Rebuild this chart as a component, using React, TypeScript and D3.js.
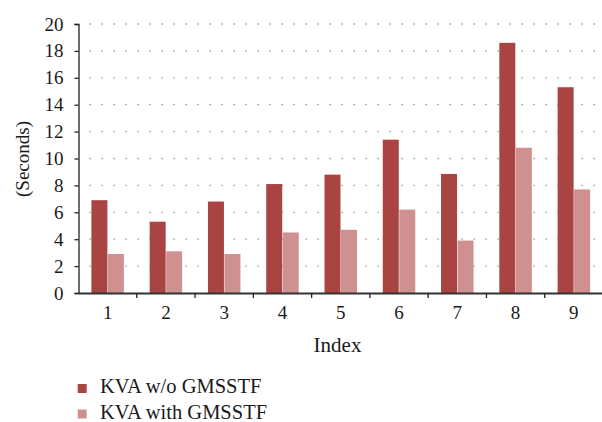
import React, { useEffect, useRef } from "react";
import * as d3 from "d3";

const categories = ["1", "2", "3", "4", "5", "6", "7", "8", "9"];
const withoutGmsstf = [6.9, 5.3, 6.8, 8.1, 8.8, 11.4, 8.85, 18.6, 15.3];
const withGmsstf = [2.9, 3.1, 2.9, 4.5, 4.7, 6.2, 3.9, 10.8, 7.7];
const seriesNames = ["KVA w/o GMSSTF", "KVA with GMSSTF"];
const yTicks = [0, 2, 4, 6, 8, 10, 12, 14, 16, 18, 20];

const colors = ["#a94442", "#cf9190"];
const font = "'Liberation Serif', 'DejaVu Serif', serif";

export default function App() {
  const ref = useRef<SVGSVGElement>(null);

  useEffect(() => {
    const svg = d3.select(ref.current);
    svg.selectAll("*").remove();

    const left = 78.5, right = 603, top = 24, bottom = 293;

    const x = d3.scaleBand().domain(categories).range([left, right]).paddingInner(0).paddingOuter(0);
    const inner = d3.scaleBand().domain(["0", "1"]).range([0, 32.5]).paddingInner(0.03);
    const y = d3.scaleLinear().domain([0, 20]).range([bottom, top]);

    // gridlines
    svg.append("g")
      .selectAll("line")
      .data(yTicks.slice(1))
      .join("line")
      .attr("x1", left + 11)
      .attr("x2", right)
      .attr("y1", (d) => y(d))
      .attr("y2", (d) => y(d))
      .style("stroke", "#8a8a8a")
      .style("stroke-width", 1.3)
      .style("stroke-dasharray", "1.3 10.7");

    // bars
    const series = [withoutGmsstf, withGmsstf];
    series.forEach((vals, si) => {
      svg.append("g")
        .selectAll("rect")
        .data(vals)
        .join("rect")
        .attr("x", (_, i) => x(categories[i])! + (x.bandwidth() - 32.5) / 2 + inner(String(si))!)
        .attr("y", (d) => y(d))
        .attr("width", inner.bandwidth())
        .attr("height", (d) => bottom - y(d))
        .style("fill", colors[si]);
    });

    // y axis
    const yAxis = svg.append("g")
      .attr("transform", `translate(${left},0)`)
      .call(d3.axisLeft(y).tickValues(yTicks).tickSize(4).tickPadding(11));
    yAxis.select(".domain").attr("stroke", "#222").attr("stroke-width", 1.3);
    yAxis.selectAll(".tick line").attr("stroke", "#222").attr("stroke-width", 1.3);
    yAxis.selectAll("text")
      .style("font-family", font)
      .style("font-size", "19px")
      .style("fill", "#1a1a1a");

    // x axis
    const xAxis = svg.append("g")
      .attr("transform", `translate(0,${bottom})`)
      .call(d3.axisBottom(x).tickSize(0).tickPadding(13));
    xAxis.select(".domain").attr("stroke", "#333").attr("stroke-width", 1.8);
    xAxis.selectAll("text")
      .style("font-family", font)
      .style("font-size", "19px")
      .style("fill", "#1a1a1a");

    svg.append("g")
      .selectAll("line")
      .data(categories.map((c) => x(c)!).slice(1))
      .join("line")
      .attr("x1", (d) => d)
      .attr("x2", (d) => d)
      .attr("y1", bottom)
      .attr("y2", bottom + 5)
      .style("stroke", "#222")
      .style("stroke-width", 1.3);

    // axis titles
    svg.append("text")
      .attr("x", 337.5)
      .attr("y", 352)
      .attr("text-anchor", "middle")
      .style("font-family", font)
      .style("font-size", "21px")
      .style("fill", "#1a1a1a")
      .text("Index");

    svg.append("text")
      .attr("transform", `translate(29,159) rotate(-90)`)
      .attr("text-anchor", "middle")
      .style("font-family", font)
      .style("font-size", "19px")
      .style("fill", "#1a1a1a")
      .text("(Seconds)");

    // legend
    const legend = svg.append("g")
      .selectAll("g")
      .data(seriesNames)
      .join("g")
      .attr("transform", (_, i) => `translate(77.7,${384 + i * 25.5})`);
    legend.append("rect")
      .attr("width", 9)
      .attr("height", 9)
      .style("fill", (_, i) => colors[i]);
    legend.append("text")
      .attr("x", 22.3)
      .attr("y", 9)
      .style("font-family", font)
      .style("font-size", "20.5px")
      .style("fill", "#1a1a1a")
      .text((d) => d);
  }, []);

  return (
    <svg
      ref={ref}
      width={602}
      height={422}
      style={{ position: "absolute", left: 0, top: 0, background: "#fff" }}
    />
  );
}
